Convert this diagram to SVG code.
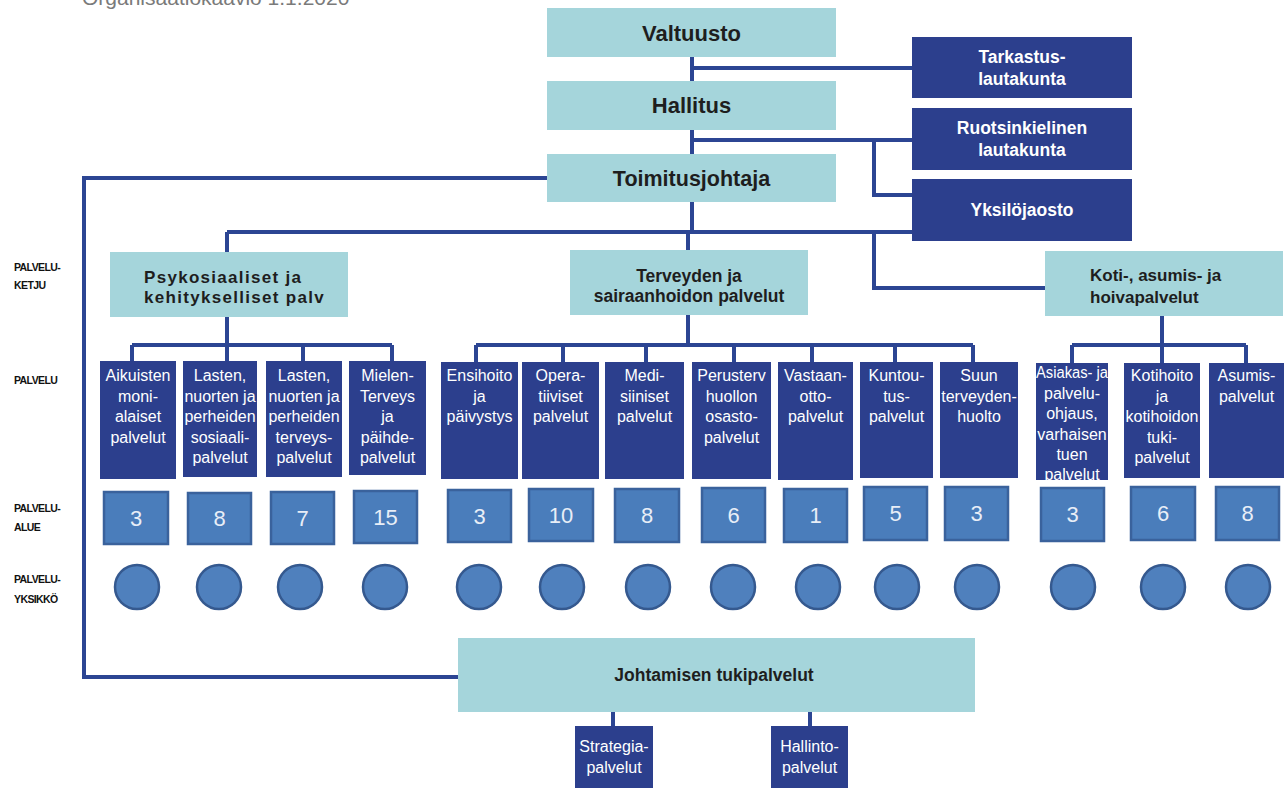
<svg xmlns="http://www.w3.org/2000/svg" width="1288" height="788" viewBox="0 0 1288 788">
<style>
.bg{fill:#ffffff}
.lt{fill:#a5d5db}
.dk{fill:#2c3f8d}
.sq{fill:#4a7dbb;stroke:#3a629c;stroke-width:2.5}
.ci{fill:#4f80bd;stroke:#35598f;stroke-width:2.5}
.ln{fill:none;stroke:#2c4593;stroke-width:4}
.t1{font-family:"Liberation Sans",Arial,sans-serif;font-weight:bold;fill:#1e1e1e;text-anchor:middle}
.tw{font-family:"Liberation Sans",Arial,sans-serif;font-weight:bold;fill:#ffffff;text-anchor:middle;font-size:17.5px}
.tp{font-family:"Liberation Sans",Arial,sans-serif;fill:#ffffff;text-anchor:middle;font-size:16px}
.tn{font-family:"Liberation Sans",Arial,sans-serif;fill:#e8eef7;text-anchor:middle;font-size:22px}
.lb{font-family:"Liberation Sans",Arial,sans-serif;font-weight:bold;fill:#111111;font-size:10.5px;letter-spacing:-0.6px}
.ch{font-family:"Liberation Sans",Arial,sans-serif;font-weight:bold;fill:#1e1e1e;font-size:17px}
</style>
<rect class="bg" x="0" y="0" width="1288" height="788"/>
<text x="82" y="5" font-family="'Liberation Sans',Arial,sans-serif" font-size="21" fill="#7a7a7a">Organisaatiokaavio 1.1.2020</text>

<g id="connectors">
<path class="ln" d="M692 57 V232"/>
<path class="ln" d="M692 68 H912"/>
<path class="ln" d="M692 140 H912"/>
<path class="ln" d="M874 140 V195 H912"/>
<path class="ln" d="M547 178 H84 V677 H459"/>
<path class="ln" d="M227 232 H912"/>
<path class="ln" d="M227 232 V252"/>
<path class="ln" d="M688 232 V250"/>
<path class="ln" d="M874 232 V288 H1045"/>
<path class="ln" d="M227 317 V345 M132 345 H392 M132 345 V361 M227 345 V361 M303 345 V361 M392 345 V361"/>
<path class="ln" d="M688 315 V345 M476 345 H973 M476 345 V362 M563 345 V362 M646 345 V362 M734 345 V362 M812 345 V362 M895 345 V362 M973 345 V362"/>
<path class="ln" d="M1162 316 V345 M1072 345 H1246 M1072 345 V363 M1162 345 V363 M1246 345 V363"/>
<path class="ln" d="M613 712 V726 M810 712 V726"/>
</g>

<g id="valtuusto"><rect class="lt" x="547" y="8" width="289" height="49"/><text class="t1" x="691.5" y="40.5" font-size="22">Valtuusto</text></g>
<g id="hallitus"><rect class="lt" x="547" y="81" width="289" height="49"/><text class="t1" x="691.5" y="113" font-size="22">Hallitus</text></g>
<g id="toimitusjohtaja"><rect class="lt" x="547" y="154" width="289" height="48"/><text class="t1" x="691.5" y="185.5" font-size="21.5">Toimitusjohtaja</text></g>

<g id="tarkastuslautakunta"><rect class="dk" x="912" y="37" width="220" height="61"/><text class="tw" x="1022" y="62.5">Tarkastus-</text><text class="tw" x="1022" y="84.5">lautakunta</text></g>
<g id="ruotsinkielinen"><rect class="dk" x="912" y="108" width="220" height="62"/><text class="tw" x="1022" y="134">Ruotsinkielinen</text><text class="tw" x="1022" y="156">lautakunta</text></g>
<g id="yksilojaosto"><rect class="dk" x="912" y="179" width="220" height="62"/><text class="tw" x="1022" y="216">Yksilöjaosto</text></g>

<g id="labels">
<text class="lb" x="14" y="271">PALVELU-</text><text class="lb" x="14" y="289">KETJU</text>
<text class="lb" x="14" y="384">PALVELU</text>
<text class="lb" x="14" y="512">PALVELU-</text><text class="lb" x="14" y="531">ALUE</text>
<text class="lb" x="14" y="583">PALVELU-</text><text class="lb" x="14" y="603">YKSIKKÖ</text>
</g>

<g id="psykosiaaliset"><rect class="lt" x="110" y="252" width="238" height="65"/><text class="ch" x="144" y="283" letter-spacing="1.3">Psykosiaaliset ja</text><text class="ch" x="144" y="303" letter-spacing="1.3">kehitykselliset palv</text></g>
<g id="terveyden"><rect class="lt" x="570" y="250" width="238" height="65"/><text class="t1" x="689" y="282" font-size="17.5">Terveyden ja</text><text class="t1" x="689" y="302" font-size="17.5">sairaanhoidon palvelut</text></g>
<g id="koti"><rect class="lt" x="1045" y="251" width="238" height="65"/><text class="ch" x="1090" y="281">Koti-, asumis- ja</text><text class="ch" x="1090" y="303">hoivapalvelut</text></g>

<g id="p-aikuisten"><rect class="dk" x="100" y="361" width="76" height="118"/><text class="tp" x="138" y="381">Aikuisten</text><text class="tp" x="138" y="401.5">moni-</text><text class="tp" x="138" y="422">alaiset</text><text class="tp" x="138" y="442.5">palvelut</text></g>
<g id="p-lasten-sos"><rect class="dk" x="183" y="361" width="74" height="116"/><text class="tp" x="220" y="381">Lasten,</text><text class="tp" x="220" y="401.5">nuorten ja</text><text class="tp" x="220" y="422">perheiden</text><text class="tp" x="220" y="442.5">sosiaali-</text><text class="tp" x="220" y="463">palvelut</text></g>
<g id="p-lasten-ter"><rect class="dk" x="266" y="361" width="76" height="116"/><text class="tp" x="304" y="381">Lasten,</text><text class="tp" x="304" y="401.5">nuorten ja</text><text class="tp" x="304" y="422">perheiden</text><text class="tp" x="304" y="442.5">terveys-</text><text class="tp" x="304" y="463">palvelut</text></g>
<g id="p-mielen"><rect class="dk" x="349" y="361" width="77" height="114"/><text class="tp" x="387.5" y="381">Mielen-</text><text class="tp" x="387.5" y="401.5">Terveys</text><text class="tp" x="387.5" y="422">ja</text><text class="tp" x="387.5" y="442.5">päihde-</text><text class="tp" x="387.5" y="463">palvelut</text></g>

<g id="p-ensihoito"><rect class="dk" x="441" y="362" width="77" height="117"/><text class="tp" x="479.5" y="381">Ensihoito</text><text class="tp" x="479.5" y="401.5">ja</text><text class="tp" x="479.5" y="422">päivystys</text></g>
<g id="p-operatiiviset"><rect class="dk" x="522" y="362" width="77" height="117"/><text class="tp" x="560.5" y="381">Opera-</text><text class="tp" x="560.5" y="401.5">tiiviset</text><text class="tp" x="560.5" y="422">palvelut</text></g>
<g id="p-mediisiniset"><rect class="dk" x="605" y="362" width="79" height="117"/><text class="tp" x="644.5" y="381">Medi-</text><text class="tp" x="644.5" y="401.5">siiniset</text><text class="tp" x="644.5" y="422">palvelut</text></g>
<g id="p-perusterv"><rect class="dk" x="692" y="362" width="79" height="117"/><text class="tp" x="731.5" y="381">Perusterv</text><text class="tp" x="731.5" y="401.5">huollon</text><text class="tp" x="731.5" y="422">osasto-</text><text class="tp" x="731.5" y="442.5">palvelut</text></g>
<g id="p-vastaanotto"><rect class="dk" x="778" y="362" width="75" height="118"/><text class="tp" x="815.5" y="381">Vastaan-</text><text class="tp" x="815.5" y="401.5">otto-</text><text class="tp" x="815.5" y="422">palvelut</text></g>
<g id="p-kuntoutus"><rect class="dk" x="860" y="362" width="73" height="116"/><text class="tp" x="896.5" y="381">Kuntou-</text><text class="tp" x="896.5" y="401.5">tus-</text><text class="tp" x="896.5" y="422">palvelut</text></g>
<g id="p-suun"><rect class="dk" x="940" y="362" width="78" height="116"/><text class="tp" x="979" y="381">Suun</text><text class="tp" x="979" y="401.5">terveyden-</text><text class="tp" x="979" y="422">huolto</text></g>

<g id="p-asiakas"><rect class="dk" x="1036" y="363" width="72" height="117"/><text class="tp" x="1072" y="378" textLength="72" lengthAdjust="spacingAndGlyphs">Asiakas- ja</text><text class="tp" x="1072" y="398.5">palvelu-</text><text class="tp" x="1072" y="419">ohjaus,</text><text class="tp" x="1072" y="439.5">varhaisen</text><text class="tp" x="1072" y="460">tuen</text><text class="tp" x="1072" y="480">palvelut</text></g>
<g id="p-kotihoito"><rect class="dk" x="1124" y="363" width="76" height="115"/><text class="tp" x="1162" y="381">Kotihoito</text><text class="tp" x="1162" y="401.5">ja</text><text class="tp" x="1162" y="422">kotihoidon</text><text class="tp" x="1162" y="442.5">tuki-</text><text class="tp" x="1162" y="463">palvelut</text></g>
<g id="p-asumis"><rect class="dk" x="1209" y="363" width="75" height="115"/><text class="tp" x="1246.5" y="381">Asumis-</text><text class="tp" x="1246.5" y="401.5">palvelut</text></g>

<g id="alueet">
<rect class="sq" x="104" y="492" width="64" height="52"/><text class="tn" x="136" y="526">3</text>
<rect class="sq" x="188" y="493" width="63" height="51"/><text class="tn" x="219.5" y="526">8</text>
<rect class="sq" x="271" y="492" width="63" height="52"/><text class="tn" x="302.5" y="526">7</text>
<rect class="sq" x="354" y="491" width="63" height="52"/><text class="tn" x="385.5" y="525">15</text>
<rect class="sq" x="448" y="490" width="63" height="52"/><text class="tn" x="479.5" y="524">3</text>
<rect class="sq" x="529" y="489" width="64" height="52"/><text class="tn" x="561" y="523">10</text>
<rect class="sq" x="615" y="489" width="64" height="53"/><text class="tn" x="647" y="523">8</text>
<rect class="sq" x="702" y="488" width="63" height="54"/><text class="tn" x="733.5" y="523">6</text>
<rect class="sq" x="784" y="489" width="63" height="53"/><text class="tn" x="815.5" y="523">1</text>
<rect class="sq" x="864" y="487" width="63" height="53"/><text class="tn" x="895.5" y="521">5</text>
<rect class="sq" x="945" y="487" width="63" height="53"/><text class="tn" x="976.5" y="521">3</text>
<rect class="sq" x="1041" y="488" width="63" height="53"/><text class="tn" x="1072.5" y="522">3</text>
<rect class="sq" x="1131" y="487" width="64" height="53"/><text class="tn" x="1163" y="521">6</text>
<rect class="sq" x="1216" y="487" width="63" height="53"/><text class="tn" x="1247.5" y="521">8</text>
</g>

<g id="yksikot">
<circle class="ci" cx="137" cy="587" r="22"/>
<circle class="ci" cx="219" cy="587" r="22"/>
<circle class="ci" cx="300" cy="587" r="22"/>
<circle class="ci" cx="385" cy="587" r="22"/>
<circle class="ci" cx="479" cy="587" r="22"/>
<circle class="ci" cx="562" cy="587" r="22"/>
<circle class="ci" cx="648" cy="587" r="22"/>
<circle class="ci" cx="733" cy="587" r="22"/>
<circle class="ci" cx="818" cy="587" r="22"/>
<circle class="ci" cx="897" cy="587" r="22"/>
<circle class="ci" cx="977" cy="587" r="22"/>
<circle class="ci" cx="1073" cy="587" r="22"/>
<circle class="ci" cx="1163" cy="587" r="22"/>
<circle class="ci" cx="1248" cy="587" r="22"/>
</g>

<g id="johtamisen"><rect class="lt" x="458" y="638" width="517" height="74"/><text class="t1" x="714" y="681" font-size="17.5">Johtamisen tukipalvelut</text></g>
<g id="strategia"><rect class="dk" x="575" y="726" width="78" height="62"/><text class="tp" x="614" y="752">Strategia-</text><text class="tp" x="614" y="773">palvelut</text></g>
<g id="hallinto"><rect class="dk" x="771" y="726" width="77" height="62"/><text class="tp" x="809.5" y="752">Hallinto-</text><text class="tp" x="809.5" y="773">palvelut</text></g>
</svg>
